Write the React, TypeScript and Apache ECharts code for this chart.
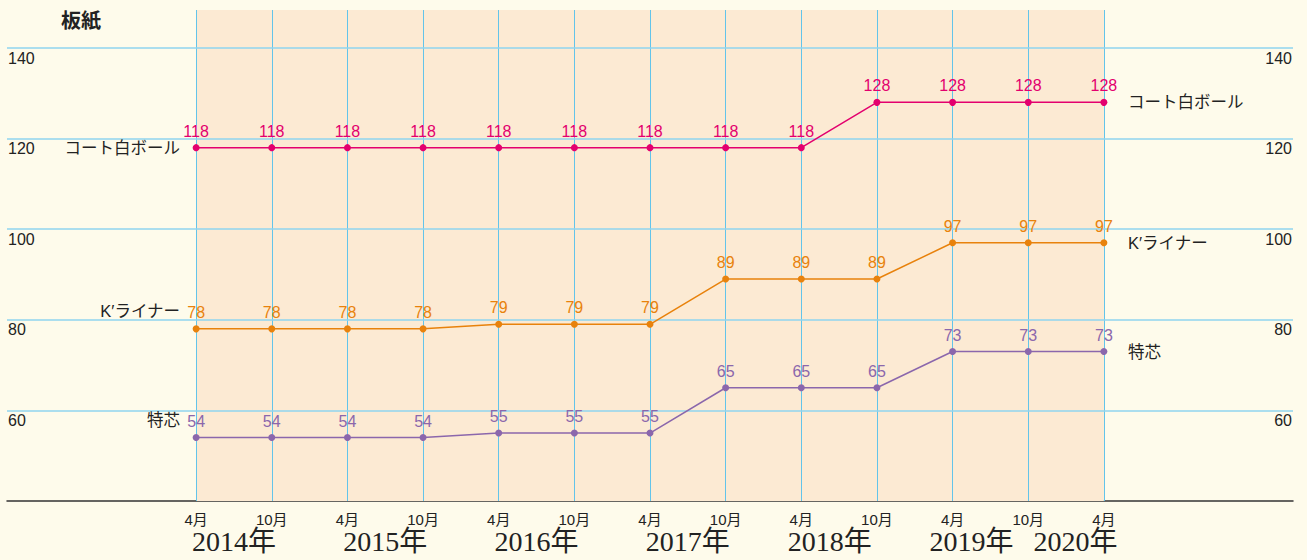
import React, { useEffect, useRef } from "react";
import * as echarts from "echarts";

const monthLabels = ["4月", "10月", "4月", "10月", "4月", "10月", "4月", "10月", "4月", "10月", "4月", "10月", "4月"];
const yearLabels = ["2014年", "2015年", "2016年", "2017年", "2018年", "2019年", "2020年"];
const yearPositions = [0.5, 2.5, 4.5, 6.5, 8.375, 10.25, 11.625];
const seriesNames = ["コート白ボール", "K′ライナー", "特芯"];
const coatWhite = [118, 118, 118, 118, 118, 118, 118, 118, 118, 128, 128, 128, 128];
const kLiner = [78, 78, 78, 78, 79, 79, 79, 89, 89, 89, 97, 97, 97];
const tokushin = [54, 54, 54, 54, 55, 55, 55, 65, 65, 65, 73, 73, 73];
const gridValues = [60, 80, 100, 120, 140];

const SANS = "'Liberation Sans', 'Noto Sans CJK JP', sans-serif";
const SERIF = "'Liberation Serif', 'DejaVu Serif', 'Noto Sans CJK JP', serif";

export default function App() {
  const ref = useRef<HTMLDivElement>(null);
  useEffect(() => {
    if (!ref.current) return;
    const chart = echarts.init(ref.current, undefined, { renderer: "svg" });
    const colors = ["#e3006e", "#e8820c", "#8b67ac"];
    const values = [coatWhite, kLiner, tokushin];
    const leftOffsets = [0, -18, -18];
    const n = monthLabels.length;

    const dataSeries = values.map((vals, si) => ({
      type: "line",
      name: seriesNames[si],
      z: 5,
      data: vals.map((v, i) => [i, v]),
      symbol: "circle",
      symbolSize: 7,
      lineStyle: { color: colors[si], width: 1.5 },
      itemStyle: { color: colors[si] },
      label: {
        show: true,
        position: "top",
        distance: 5,
        color: colors[si],
        fontSize: 16,
        fontFamily: SANS,
      },
      markPoint: {
        symbol: "circle",
        symbolSize: 0,
        silent: true,
        data: [
          {
            coord: [0, vals[0]],
            label: {
              show: true,
              position: "left",
              distance: 16,
              offset: [0, leftOffsets[si]],
              formatter: seriesNames[si],
              color: "#222",
              fontSize: 16.5,
              fontFamily: SANS,
            },
          },
          {
            coord: [n - 1, vals[n - 1]],
            label: {
              show: true,
              position: "right",
              distance: 24,
              formatter: seriesNames[si],
              color: "#222",
              fontSize: 16.5,
              fontFamily: SANS,
            },
          },
        ],
      },
    }));

    const bgSeries = {
      type: "line",
      z: 1,
      silent: true,
      data: coatWhite.map((v, i) => [i, v]),
      showSymbol: false,
      lineStyle: { opacity: 0 },
      label: { show: false },
      tooltip: { show: false },
      markArea: {
        silent: true,
        itemStyle: { color: "#fcead3" },
        data: [[{ xAxis: 0 }, { xAxis: n - 1 }]],
      },
      markLine: {
        silent: true,
        symbol: ["none", "none"],
        label: { show: false },
        data: [
          ...monthLabels.map((_, i) => ({ xAxis: i, lineStyle: { color: "#62c4ea", width: 1, type: "solid" } })),
          ...gridValues.map((v) => ({ yAxis: v, lineStyle: { color: "#8fd4ef", width: 1.5, type: "solid" } })),
        ],
      },
    };

    const yTop = 140 + (38 * 100) / 453;
    const yLabelFmt = (v: number) => (Math.abs(v % 20) < 1e-6 && v > 40 && v <= 140 ? String(v) : "");

    chart.setOption({
      animation: false,
      backgroundColor: "#fefbeb",
      title: {
        text: "板紙",
        left: 56,
        top: 6,
        textStyle: { fontSize: 20, fontWeight: "bold", color: "#222", fontFamily: SANS },
      },
      grid: { left: 7, right: 14, top: 10, bottom: 59, containLabel: false },
      xAxis: [
        {
          type: "value",
          min: -2.5,
          max: 14.5,
          interval: 0.5,
          position: "bottom",
          axisLine: { show: true, lineStyle: { color: "#333", width: 1.5 } },
          axisTick: { show: false },
          splitLine: { show: false },
          axisLabel: {
            margin: 11,
            fontSize: 15,
            lineHeight: 15,
            color: "#222",
            fontFamily: SANS,
            formatter: (v: number) => {
              const i = Math.round(v);
              return Math.abs(v - i) < 1e-6 && i >= 0 && i < n ? monthLabels[i] : "";
            },
          },
        },
        {
          type: "value",
          min: -2.5,
          max: 14.5,
          interval: 0.125,
          position: "bottom",
          axisLine: { show: false },
          axisTick: { show: false },
          splitLine: { show: false },
          axisLabel: {
            margin: 29,
            fontSize: 28,
            lineHeight: 22,
            color: "#222",
            fontFamily: SERIF,
            formatter: (v: number) => {
              const k = Math.round(v * 8);
              const idx = yearPositions.findIndex((p) => Math.round(p * 8) === k);
              return idx >= 0 ? yearLabels[idx] : "";
            },
          },
        },
      ],
      yAxis: [
        {
          type: "value",
          min: 40,
          max: yTop,
          interval: 20,
          position: "left",
          axisLine: { show: false },
          axisTick: { show: false },
          splitLine: { show: false },
          axisLabel: {
            inside: true,
            margin: 1,
            verticalAlign: "top",
            padding: [2, 0, 0, 0],
            fontSize: 16,
            color: "#222",
            fontFamily: SANS,
            formatter: yLabelFmt,
          },
        },
        {
          type: "value",
          min: 40,
          max: yTop,
          interval: 20,
          position: "right",
          axisLine: { show: false },
          axisTick: { show: false },
          splitLine: { show: false },
          axisLabel: {
            inside: true,
            margin: 1,
            verticalAlign: "top",
            padding: [2, 0, 0, 0],
            fontSize: 16,
            color: "#222",
            fontFamily: SANS,
            formatter: yLabelFmt,
          },
        },
      ],
      series: [bgSeries, ...dataSeries],
    });
    return () => chart.dispose();
  }, []);
  return <div ref={ref} style={{ position: "fixed", left: 0, top: 0, width: 1307, height: 560 }} />;
}
